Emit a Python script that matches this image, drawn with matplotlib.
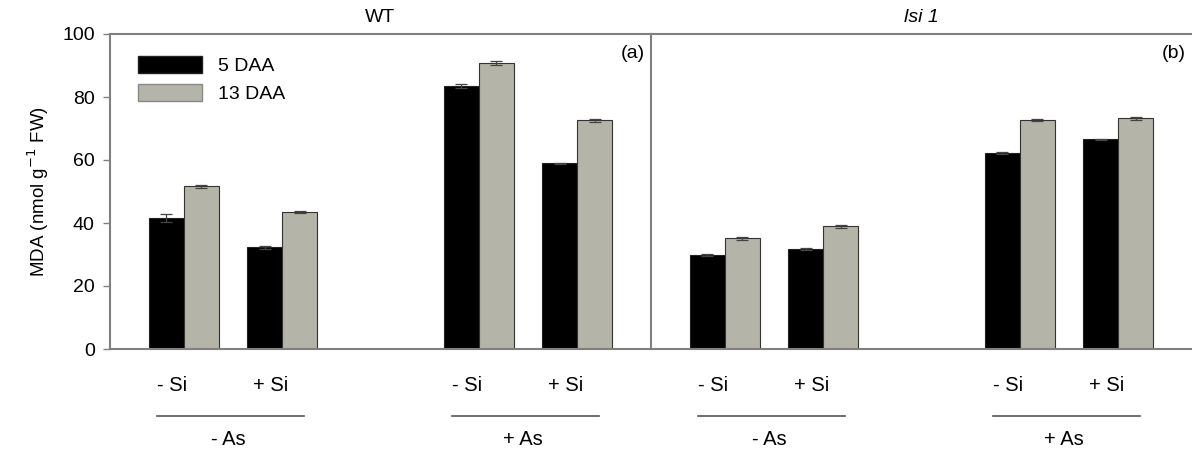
import numpy as np
import matplotlib
matplotlib.use('Agg')
import matplotlib.pyplot as plt
from matplotlib.patches import Patch
from matplotlib.transforms import blended_transform_factory

plt.rcParams['font.family'] = ['Liberation Sans', 'DejaVu Sans']

# data
si_labels = ['- Si', '+ Si', '- Si', '+ Si']
as_labels = ['- As', '+ As']
series_names = ['5 DAA', '13 DAA']

wt_5daa = [41.7, 32.3, 83.5, 58.9]
wt_5daa_err = [1.3, 0.4, 0.5, 0.2]
wt_13daa = [51.6, 43.4, 90.8, 72.6]
wt_13daa_err = [0.6, 0.3, 0.5, 0.4]

lsi_5daa = [29.8, 31.7, 62.2, 66.6]
lsi_5daa_err = [0.4, 0.3, 0.2, 0.2]
lsi_13daa = [35.1, 39.0, 72.6, 73.2]
lsi_13daa_err = [0.6, 0.5, 0.3, 0.4]

positions = np.array([1, 2, 4, 5])
bar_w = 0.355
black = '#000000'
grey = '#b5b4a8'
spine_col = '#808080'
fs = 14


def draw_panel(ax, v5, e5, v13, e13, tag, title, italic=False):
    ax.bar(positions - bar_w / 2, v5, bar_w, color=black, edgecolor='#222222', linewidth=0.8)
    ax.bar(positions + bar_w / 2, v13, bar_w, color=grey, edgecolor='#333333', linewidth=0.8)
    ax.errorbar(positions - bar_w / 2, v5, yerr=e5, fmt='none', ecolor='#444444',
                elinewidth=0.9, capsize=4, capthick=0.9)
    ax.errorbar(positions + bar_w / 2, v13, yerr=e13, fmt='none', ecolor='#444444',
                elinewidth=0.9, capsize=4, capthick=0.9)
    ax.set_xlim(0.25, 5.75)
    ax.set_ylim(0, 100)
    ax.set_xticks([])
    for s in ax.spines.values():
        s.set_color(spine_col)
        s.set_linewidth(1.5)
    ax.spines['right'].set_visible(False)
    ax.text(0.988, 0.965, tag, transform=ax.transAxes, ha='right', va='top', fontsize=fs)
    ax.set_title(title, fontsize=fs, style='italic' if italic else 'normal', pad=9)

    # category labels under the axis
    tr = blended_transform_factory(ax.transData, ax.transAxes)
    for p, lab in zip(positions, si_labels):
        ax.annotate(lab, xy=(p - 0.12, 0), xycoords=tr, xytext=(0, -26), textcoords='offset points',
                    ha='center', va='center', fontsize=fs + 0.5, annotation_clip=False)
    for k, lab in enumerate(as_labels):
        c = positions[2 * k:2 * k + 2].mean()
        ax.plot([c - 0.77, c + 0.72], [-0.212, -0.212], transform=tr, color='#555555',
                lw=1.2, clip_on=False)
        ax.annotate(lab, xy=(c - 0.05, 0), xycoords=tr, xytext=(0, -65.5), textcoords='offset points',
                    ha='center', va='center', fontsize=fs + 0.5, annotation_clip=False)


fig = plt.figure(figsize=(11.92, 4.55), dpi=100)
ax1 = fig.add_axes([110 / 1192, 1 - 349 / 455, 541 / 1192, 315 / 455])
ax2 = fig.add_axes([651 / 1192, 1 - 349 / 455, 541 / 1192, 315 / 455])

draw_panel(ax1, wt_5daa, wt_5daa_err, wt_13daa, wt_13daa_err, '(a)', 'WT')
draw_panel(ax2, lsi_5daa, lsi_5daa_err, lsi_13daa, lsi_13daa_err, '(b)', 'lsi 1', italic=True)

ax1.set_yticks([0, 20, 40, 60, 80, 100])
ax1.tick_params(axis='y', labelsize=fs, length=5, color=spine_col, width=1, pad=6)
ax1.set_ylabel('MDA (nmol g$^{-1}$ FW)', fontsize=fs - 0.5, labelpad=8)
ax2.set_yticks([])

handles = [Patch(facecolor=black, edgecolor='#222222'), Patch(facecolor=grey, edgecolor='#888888')]
ax1.legend(handles, series_names, loc='upper left', bbox_to_anchor=(0.052, 0.93), frameon=False,
           fontsize=fs, handlelength=3.3, handleheight=0.95, handletextpad=0.8, labelspacing=0.45,
           borderaxespad=0, borderpad=0)

fig.savefig('out.png', dpi=100)
